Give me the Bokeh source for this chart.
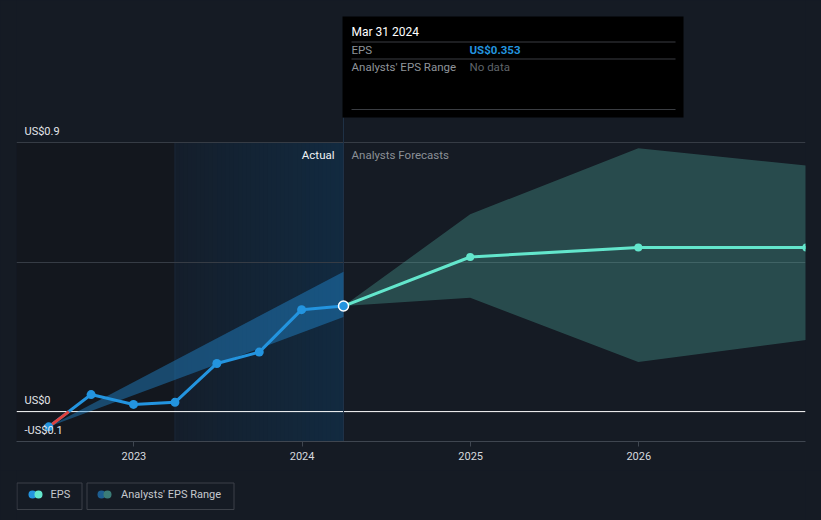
import numpy as np
import pandas as pd
from bokeh.plotting import figure
from bokeh.layouts import column
from bokeh.models import Range1d, FixedTicker, DatetimeTickFormatter, Span
from bokeh.core.properties import value
from bokeh.embed import file_html
from bokeh.resources import INLINE

# ---------------- data ----------------
actual_dates = ["2022-06-30", "2022-09-30", "2022-12-31", "2023-03-31",
                "2023-06-30", "2023-09-30", "2023-12-31", "2024-03-31"]
actual_eps = [-0.051, 0.057, 0.024, 0.031, 0.161, 0.199, 0.341, 0.353]

forecast_dates = ["2024-03-31", "2024-12-31", "2025-12-31", "2026-12-31"]
forecast_eps = [0.353, 0.517, 0.549, 0.549]
range_high = [0.353, 0.66, 0.881, 0.823]
range_low = [0.353, 0.381, 0.166, 0.24]

past_band_dates = ["2022-06-30", "2024-03-31"]
past_band_high = [-0.051, 0.468]
past_band_low = [-0.051, 0.316]

year_ticks = ["2023-01-01", "2024-01-01", "2025-01-01", "2026-01-01"]
y_label_values = [-0.1, 0.0, 0.9]
y_label_texts = ["-US$0.1", "US$0", "US$0.9"]
grid_values = [0.5, 0.9]

last_year_start = "2023-03-31"
hover_date = "2024-03-31"
x_start_date = "2022-04-21"
x_end_date = "2026-12-29"

tooltip_title = "Mar 31 2024"
tooltip_rows = ["EPS", "Analysts' EPS Range"]
tooltip_values = ["US$0.353", "No data"]

# ---------------- style ----------------
BG = "#151b24"
PAST_BG = "#13171e"
HL_LEFT = (20, 30, 43)
HL_RIGHT = (18, 42, 64)
EPS_BLUE = "#2394df"
TEAL = "#63e6cc"
FONT = value("Roboto")


def to_ms(d):
    return pd.Timestamp(d).value / 1e6


x_start = to_ms(x_start_date)
x_end = to_ms(x_end_date)
FRAME_W = 789
MS_PER_PX = (x_end - x_start) / FRAME_W

# vertical layout (page px): 0.9 line at 142, -0.1 axis at 441, canvas top at 0
PX_PER_UNIT = (441 - 142) / 1.0
Y_BOT = -0.1
Y_TOP = 0.9 + 142 / PX_PER_UNIT


def y_at(page_y):
    return 0.9 - (page_y - 142) / PX_PER_UNIT


def x_off(base_ms, px):
    return base_ms + px * MS_PER_PX


a_x = [to_ms(d) for d in actual_dates]
f_x = [to_ms(d) for d in forecast_dates]
pb_x = [to_ms(d) for d in past_band_dates]
hov = to_ms(hover_date)
ly = to_ms(last_year_start)

p = figure(width=821, height=470, x_axis_type="datetime",
           x_range=Range1d(x_start, x_end), y_range=Range1d(Y_BOT, Y_TOP),
           y_axis_location=None, output_backend="svg", toolbar_location=None,
           min_border_left=16, min_border_right=16, min_border_top=0,
           min_border_bottom=29, background_fill_color=BG,
           border_fill_color=BG, outline_line_color=None)

# backgrounds
p.quad(left=[x_start], right=[ly], bottom=[Y_BOT], top=[0.9],
       fill_color=PAST_BG, line_color=None, level="image")
n = 40
edges = np.linspace(ly, hov, n + 1)[:-1]
cols = []
for i in range(n):
    t = (i + 0.5) / n
    c = tuple(int(round(HL_LEFT[k] + (HL_RIGHT[k] - HL_LEFT[k]) * t)) for k in range(3))
    cols.append("#%02x%02x%02x" % c)
# each strip runs to the region's right edge; later strips overlay earlier ones
p.quad(left=edges, right=[hov] * n, bottom=[Y_BOT] * n, top=[0.9] * n,
       fill_color=cols, line_color=None, level="image")
p.segment(x0=[ly], y0=[Y_BOT], x1=[ly], y1=[0.9], line_color="#1b2838",
          line_width=1, level="image")

# grid
p.xgrid.grid_line_color = None
p.ygrid.ticker = FixedTicker(ticks=grid_values)
p.ygrid.grid_line_color = "#363c45"
p.ygrid.grid_line_width = 1
p.add_layout(Span(location=0, dimension="width", line_color="#ffffff",
                  line_width=1, level="underlay"))

# x axis
p.xaxis.ticker = FixedTicker(ticks=[to_ms(d) for d in year_ticks])
p.xaxis.formatter = DatetimeTickFormatter(years="%Y", months="%Y", days="%Y",
                                          hours="%Y", minutes="%Y")
p.xaxis.axis_line_color = "#3f4650"
p.xaxis.major_tick_line_color = "#3f4650"
p.xaxis.major_tick_out = 5
p.xaxis.major_tick_in = 0
p.xaxis.minor_tick_line_color = None
p.xaxis.major_label_standoff = 5
p.xaxis.major_label_text_font = "Roboto"
p.xaxis.major_label_text_font_size = "11px"
p.xaxis.major_label_text_color = "#d6d9de"

# crosshair
p.segment(x0=[hov], y0=[Y_BOT], x1=[hov], y1=[y_at(117)],
          line_color="#203247", line_width=1)

# bands
p.varea(x=pb_x, y1=past_band_low, y2=past_band_high,
        fill_color="#2190dc", fill_alpha=0.42)
p.varea(x=f_x, y1=range_low, y2=range_high,
        fill_color="#5ecfbe", fill_alpha=0.27)

# lines
p.line(a_x, actual_eps, line_color=EPS_BLUE, line_width=3)
xc = a_x[0] + (a_x[1] - a_x[0]) * (0 - actual_eps[0]) / (actual_eps[1] - actual_eps[0])
p.line([a_x[0], xc], [actual_eps[0], 0], line_color="#e0413c", line_width=3)
p.line(f_x, forecast_eps, line_color=TEAL, line_width=3)

# markers
p.scatter(a_x[:-1], actual_eps[:-1], size=9, fill_color=EPS_BLUE, line_color=None)
p.scatter(f_x[1:], forecast_eps[1:], size=8, fill_color=TEAL, line_color=None)
p.scatter([a_x[-1]], [actual_eps[-1]], size=10, fill_color=EPS_BLUE,
          line_color="#ffffff", line_width=1.5)

# y labels
p.text(x=[x_start] * 3, y=y_label_values, text=y_label_texts, x_offset=8,
       y_offset=-11, text_font=FONT, text_font_size="11px",
       text_color="#e4e6ea", text_baseline="alphabetic", text_align="left")

# Actual / Forecasts labels
p.text(x=[hov], y=[0.9], text=["Actual"], x_offset=-9, y_offset=12,
       text_font=FONT, text_font_size="11.5px", text_color="#f0f2f5",
       text_align="right", text_baseline="middle")
p.text(x=[hov], y=[0.9], text=["Analysts Forecasts"], x_offset=8, y_offset=12,
       text_font=FONT, text_font_size="11.5px", text_color="#8b9096",
       text_align="left", text_baseline="middle")

# tooltip
p.quad(left=[x_off(hov, -1)], right=[x_off(hov, 340)], top=[y_at(16)],
       bottom=[y_at(117)], fill_color="#000000", line_color=None)
sep_y = [y_at(41.5), y_at(58.5), y_at(109)]
p.segment(x0=[x_off(hov, 8)] * 3, y0=sep_y, x1=[x_off(hov, 332)] * 3, y1=sep_y,
          line_color="#3a3d42", line_width=1)
p.text(x=[hov], y=[y_at(31)], text=[tooltip_title], x_offset=8,
       text_font=FONT, text_font_size="12px", text_color="#ffffff",
       text_baseline="middle", text_align="left")
p.text(x=[hov] * 2, y=[y_at(49.5), y_at(66.5)], text=tooltip_rows, x_offset=8,
       text_font=FONT, text_font_size="11.5px", text_color="#8f949a",
       text_baseline="middle", text_align="left")
p.text(x=[hov], y=[y_at(49.5)], text=[tooltip_values[0]], x_offset=126,
       text_font=FONT, text_font_size="11.5px", text_color=EPS_BLUE,
       text_font_style="bold", text_baseline="middle", text_align="left")
p.text(x=[hov], y=[y_at(66.5)], text=[tooltip_values[1]], x_offset=126,
       text_font=FONT, text_font_size="11.5px", text_color="#5f646a",
       text_baseline="middle", text_align="left")

# ---------------- legend strip ----------------
# the column aligns this frame with the main frame (page x 16..805)
lg = figure(width=821, height=50, x_range=Range1d(16, 805), y_range=Range1d(50, 0),
            x_axis_location=None, y_axis_location=None, output_backend="svg",
            toolbar_location=None, min_border_left=16, min_border_right=16,
            min_border_top=0, min_border_bottom=0, background_fill_color=BG,
            border_fill_color=BG, outline_line_color=None)
lg.grid.visible = False
lg.quad(left=[16.5, 86.5], right=[81.5, 233.5], top=[12.5, 12.5],
        bottom=[39, 39], fill_color=None, line_color="#3c4149", line_width=1)
lg.scatter([32, 101], [24, 24], size=8, fill_color=[EPS_BLUE, "#1d5e91"], line_color=None)
lg.scatter([38, 107], [24, 24], size=8, fill_color=[TEAL, "#3b7c77"], line_color=None)
lg.text(x=[50, 120.5], y=[24, 24], text=["EPS", "Analysts' EPS Range"],
        text_font=FONT, text_font_size="11px", text_color="#c5c9ce",
        text_baseline="middle", text_align="left")

layout = column(p, lg, spacing=0)
html = file_html(layout, INLINE)
html = html.replace("</head>", "<style>html,body{background:#151b24;}</style></head>", 1)
open("out.html", "w").write(html)
